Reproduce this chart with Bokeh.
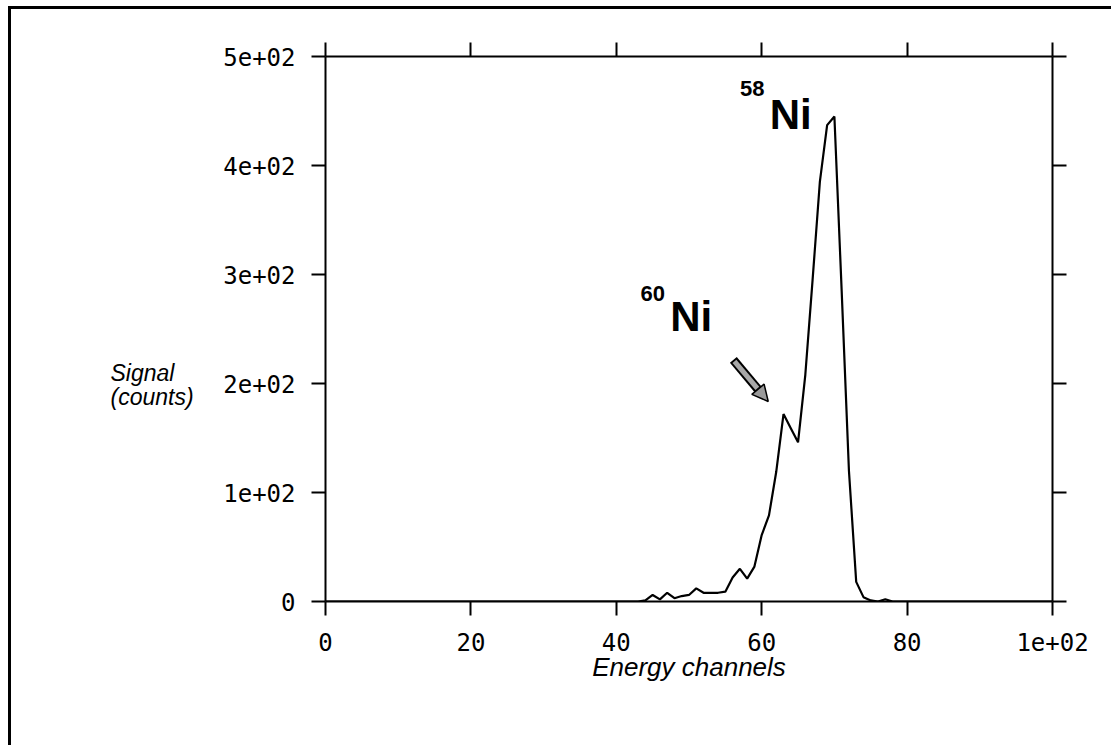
from bokeh.plotting import figure
from bokeh.layouts import row
from bokeh.models import (Range1d, LinearAxis, FixedTicker, Label, Arrow,
                          NormalHead)
from bokeh.embed import file_html
from bokeh.resources import INLINE

# ---- data ----
channels = [0, 43, 44, 45, 46, 47, 48, 49, 50, 51, 52, 53, 54, 55, 56, 57,
            58, 59, 60, 61, 62, 63, 64, 65, 66, 67, 68, 69, 70, 71, 72, 73,
            74, 75, 76, 77, 78, 100]
counts = [0, 0, 1, 6, 2, 8, 3, 5, 6, 12, 8, 8, 8, 9, 22, 30,
          21, 32, 61, 79, 119, 172, 159, 146, 208, 295, 385, 437, 445, 285, 120, 18,
          4, 1, 0, 2, 0, 0]

x_ticks = [0, 20, 40, 60, 80, 100]
x_tick_labels = ["0", "20", "40", "60", "80", "1e+02"]
y_ticks = [0, 100, 200, 300, 400, 500]
y_tick_labels = ["0", "1e+02", "2e+02", "3e+02", "4e+02", "5e+02"]
y_title_lines = ["Signal", "(counts)"]

MONO = "DejaVu Sans Mono"
SANS = "Liberation Sans"

H = 736
LEFT_W = 200

# ---- left strip holding the horizontal y-axis title (same vertical scale as main plot) ----
side = figure(title=None, frame_width=LEFT_W, frame_height=545,
              output_backend="svg", toolbar_location=None,
              x_range=Range1d(0, LEFT_W), y_range=Range1d(0, 500),
              x_axis_location=None, y_axis_location=None,
              min_border_left=0, min_border_right=0,
              min_border_top=47, min_border_bottom=144)
side.grid.visible = False
side.outline_line_color = None
side.border_fill_color = "white"
for txt, yv in zip(y_title_lines, [210, 188]):
    side.add_layout(Label(x=99, y=yv, text=txt, text_font=SANS,
                          text_font_style="italic", text_font_size="23px",
                          text_align="left", text_baseline="middle",
                          text_color="black"))

# ---- main plot ----
p = figure(width=900, height=H, output_backend="svg", toolbar_location=None,
           x_range=Range1d(0, 100), y_range=Range1d(0, 500),
           x_axis_location=None, y_axis_location=None,
           min_border_left=114, min_border_right=59,
           min_border_top=47, min_border_bottom=144)
p.grid.visible = False
p.outline_line_color = None
p.background_fill_color = "white"
p.border_fill_color = "white"


def make_axis(ticks, labels, show_labels):
    ax = LinearAxis(ticker=FixedTicker(ticks=ticks))
    ax.axis_line_width = 2
    ax.axis_line_color = "black"
    ax.major_tick_line_width = 2
    ax.major_tick_line_color = "black"
    ax.major_tick_in = 0
    ax.major_tick_out = 14
    ax.minor_tick_line_color = None
    ax.major_label_text_font = MONO
    ax.major_label_text_color = "black"
    ax.major_label_text_font_size = "24px"
    if show_labels:
        ax.major_label_overrides = {t: l for t, l in zip(ticks, labels)}
    else:
        ax.major_label_overrides = {t: "" for t in ticks}
        ax.major_label_standoff = 0
    return ax


bottom = make_axis(x_ticks, x_tick_labels, True)
bottom.major_label_standoff = 17
bottom.axis_label = "Energy channels"
bottom.axis_label_text_font = SANS
bottom.axis_label_text_font_style = "italic"
bottom.axis_label_text_font_size = "26px"
bottom.axis_label_text_color = "black"
bottom.axis_label_standoff = -2
p.add_layout(bottom, "below")

left = make_axis(y_ticks, y_tick_labels, True)
left.major_label_standoff = 16
p.add_layout(left, "left")

top = make_axis(x_ticks, x_tick_labels, False)
p.add_layout(top, "above")
right = make_axis(y_ticks, y_tick_labels, False)
p.add_layout(right, "right")

p.line(channels, counts, line_color="black", line_width=2.2)

# peak annotations
for txt, xv, yv, size in [("58", 58.7, 470.6, "22px"), ("Ni", 64.0, 446.8, "42px"),
                          ("60", 45.0, 282.6, "22px"), ("Ni", 50.3, 261.5, "42px")]:
    p.add_layout(Label(x=xv, y=yv, text=txt, text_font=SANS,
                       text_font_style="bold", text_font_size=size,
                       text_align="center", text_baseline="middle",
                       text_color="black"))

# arrow pointing to the 60Ni peak
p.add_layout(Arrow(end=NormalHead(size=16, fill_color="#9a9a9a", line_color="black",
                                  line_width=1.5),
                   x_start=56.1, y_start=221.7, x_end=60.9, y_end=183.5,
                   line_width=9, line_color="black"))
p.add_layout(Arrow(end=None, x_start=56.25, y_start=220.4, x_end=59.4, y_end=195.5,
                   line_width=5, line_color="#a8a8a8"))

layout = row(side, p, spacing=0,
             styles={"margin-left": "8px", "margin-top": "6px",
                     "border-left": "3px solid black",
                     "border-top": "3px solid black"})

open("out.html", "w").write(file_html(layout, INLINE))
